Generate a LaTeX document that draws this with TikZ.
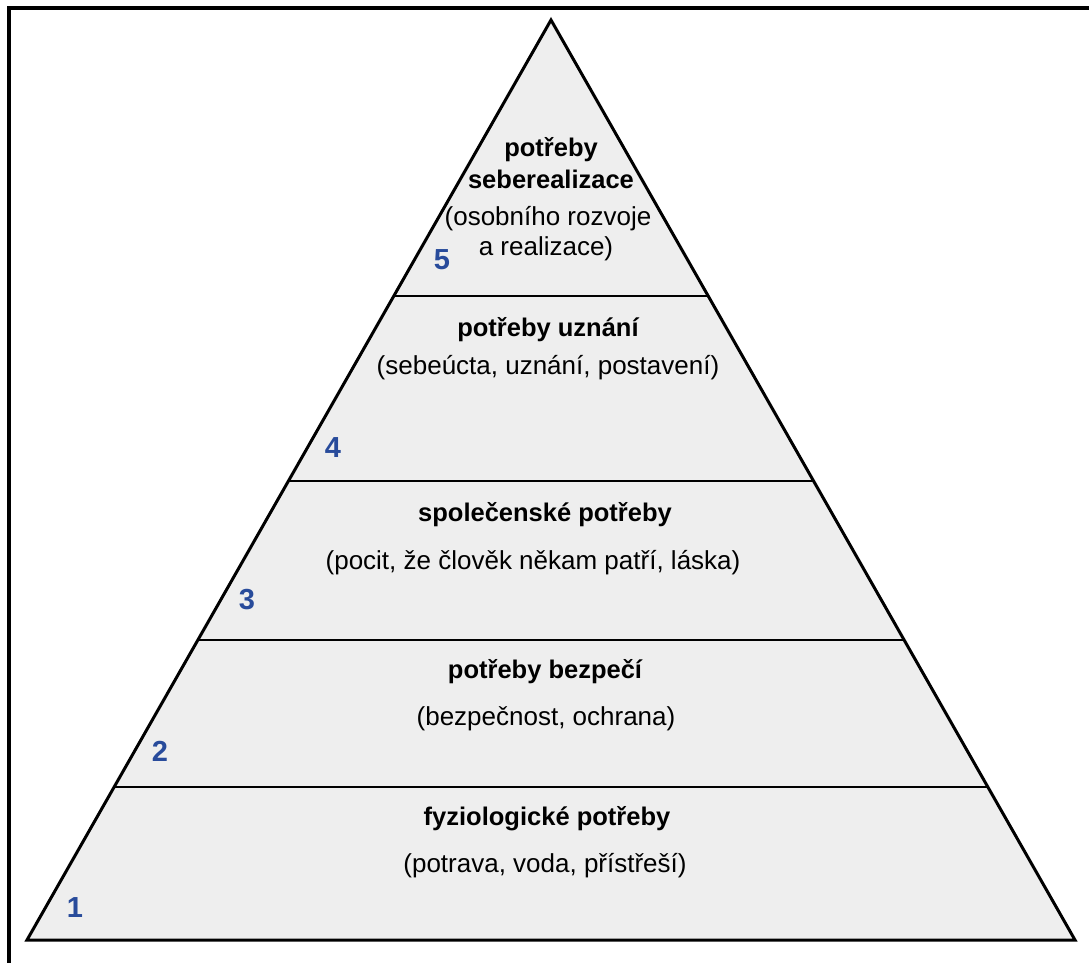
\documentclass[tikz,border=0pt]{standalone}
\usepackage{fontspec}
\setmainfont{Liberation Sans}
\usetikzlibrary{calc}

\definecolor{levelfill}{HTML}{EEEEEE}
\definecolor{levelnum}{RGB}{40,75,155}

\tikzset{
  frameline/.style={line width=4pt, line join=miter},
  outline/.style={line width=3pt, line join=miter, fill=levelfill},
  divider/.style={line width=2.6pt},
  title/.style={anchor=base, inner sep=0pt, font=\fontsize{25.5}{30}\selectfont\bfseries},
  desc/.style={anchor=base, inner sep=0pt, font=\fontsize{26}{30}\selectfont},
  levelno/.style={anchor=base, inner sep=0pt, text=levelnum, font=\fontsize{29}{32}\selectfont\bfseries},
}

\begin{document}
\begin{tikzpicture}[x=1pt, y=-1pt]
  \useasboundingbox (0,0) rectangle (1089,963);

  % open frame: left and top edges only
  \coordinate (fbl) at (9,963);
  \coordinate (ftl) at (9,8.5);
  \coordinate (ftr) at (1089,8.5);
  \draw[frameline] (fbl) -- (ftl) -- (ftr);

  % pyramid corners
  \coordinate (apex) at (551,20);
  \coordinate (bl) at (27,940);
  \coordinate (br) at (1075,940);
  \draw[outline] (apex) -- (bl) -- (br) -- cycle;

  % level boundaries (fractions of the height from the apex)
  \foreach \t/\n in {0.3/a, 0.5011/b, 0.6739/c, 0.8337/d}{
    \coordinate (L\n) at ($(apex)!\t!(bl)$);
    \coordinate (R\n) at ($(apex)!\t!(br)$);
  }
  \draw[divider] (La) -- (Ra);
  \draw[divider] (Lb) -- (Rb);
  \draw[divider] (Lc) -- (Rc);
  \draw[divider] (Ld) -- (Rd);

  % level 5
  \node[title] (t5a) at (551,157) {potřeby};
  \node[title] (t5b) at (551,188) {seberealizace};
  \node[desc]  (d5a) at (548,225) {(osobního rozvoje};
  \node[desc]  (d5b) at (546,255) {a realizace)};
  \node[levelno] (n5) at (442,269) {5};

  % level 4
  \node[title] (t4) at (548,336) {potřeby uznání};
  \node[desc]  (d4) at (548,374) {(sebeúcta, uznání, postavení)};
  \node[levelno] (n4) at (333,457) {4};

  % level 3
  \node[title] (t3) at (545,521) {společenské potřeby};
  \node[desc]  (d3) at (533,569) {(pocit, že člověk někam patří, láska)};
  \node[levelno] (n3) at (247,609) {3};

  % level 2
  \node[title] (t2) at (545,678) {potřeby bezpečí};
  \node[desc]  (d2) at (546,725) {(bezpečnost, ochrana)};
  \node[levelno] (n2) at (160,761) {2};

  % level 1
  \node[title] (t1) at (547,825) {fyziologické potřeby};
  \node[desc]  (d1) at (545,872) {(potrava, voda, přístřeší)};
  \node[levelno] (n1) at (75,917) {1};
\end{tikzpicture}
\end{document}
